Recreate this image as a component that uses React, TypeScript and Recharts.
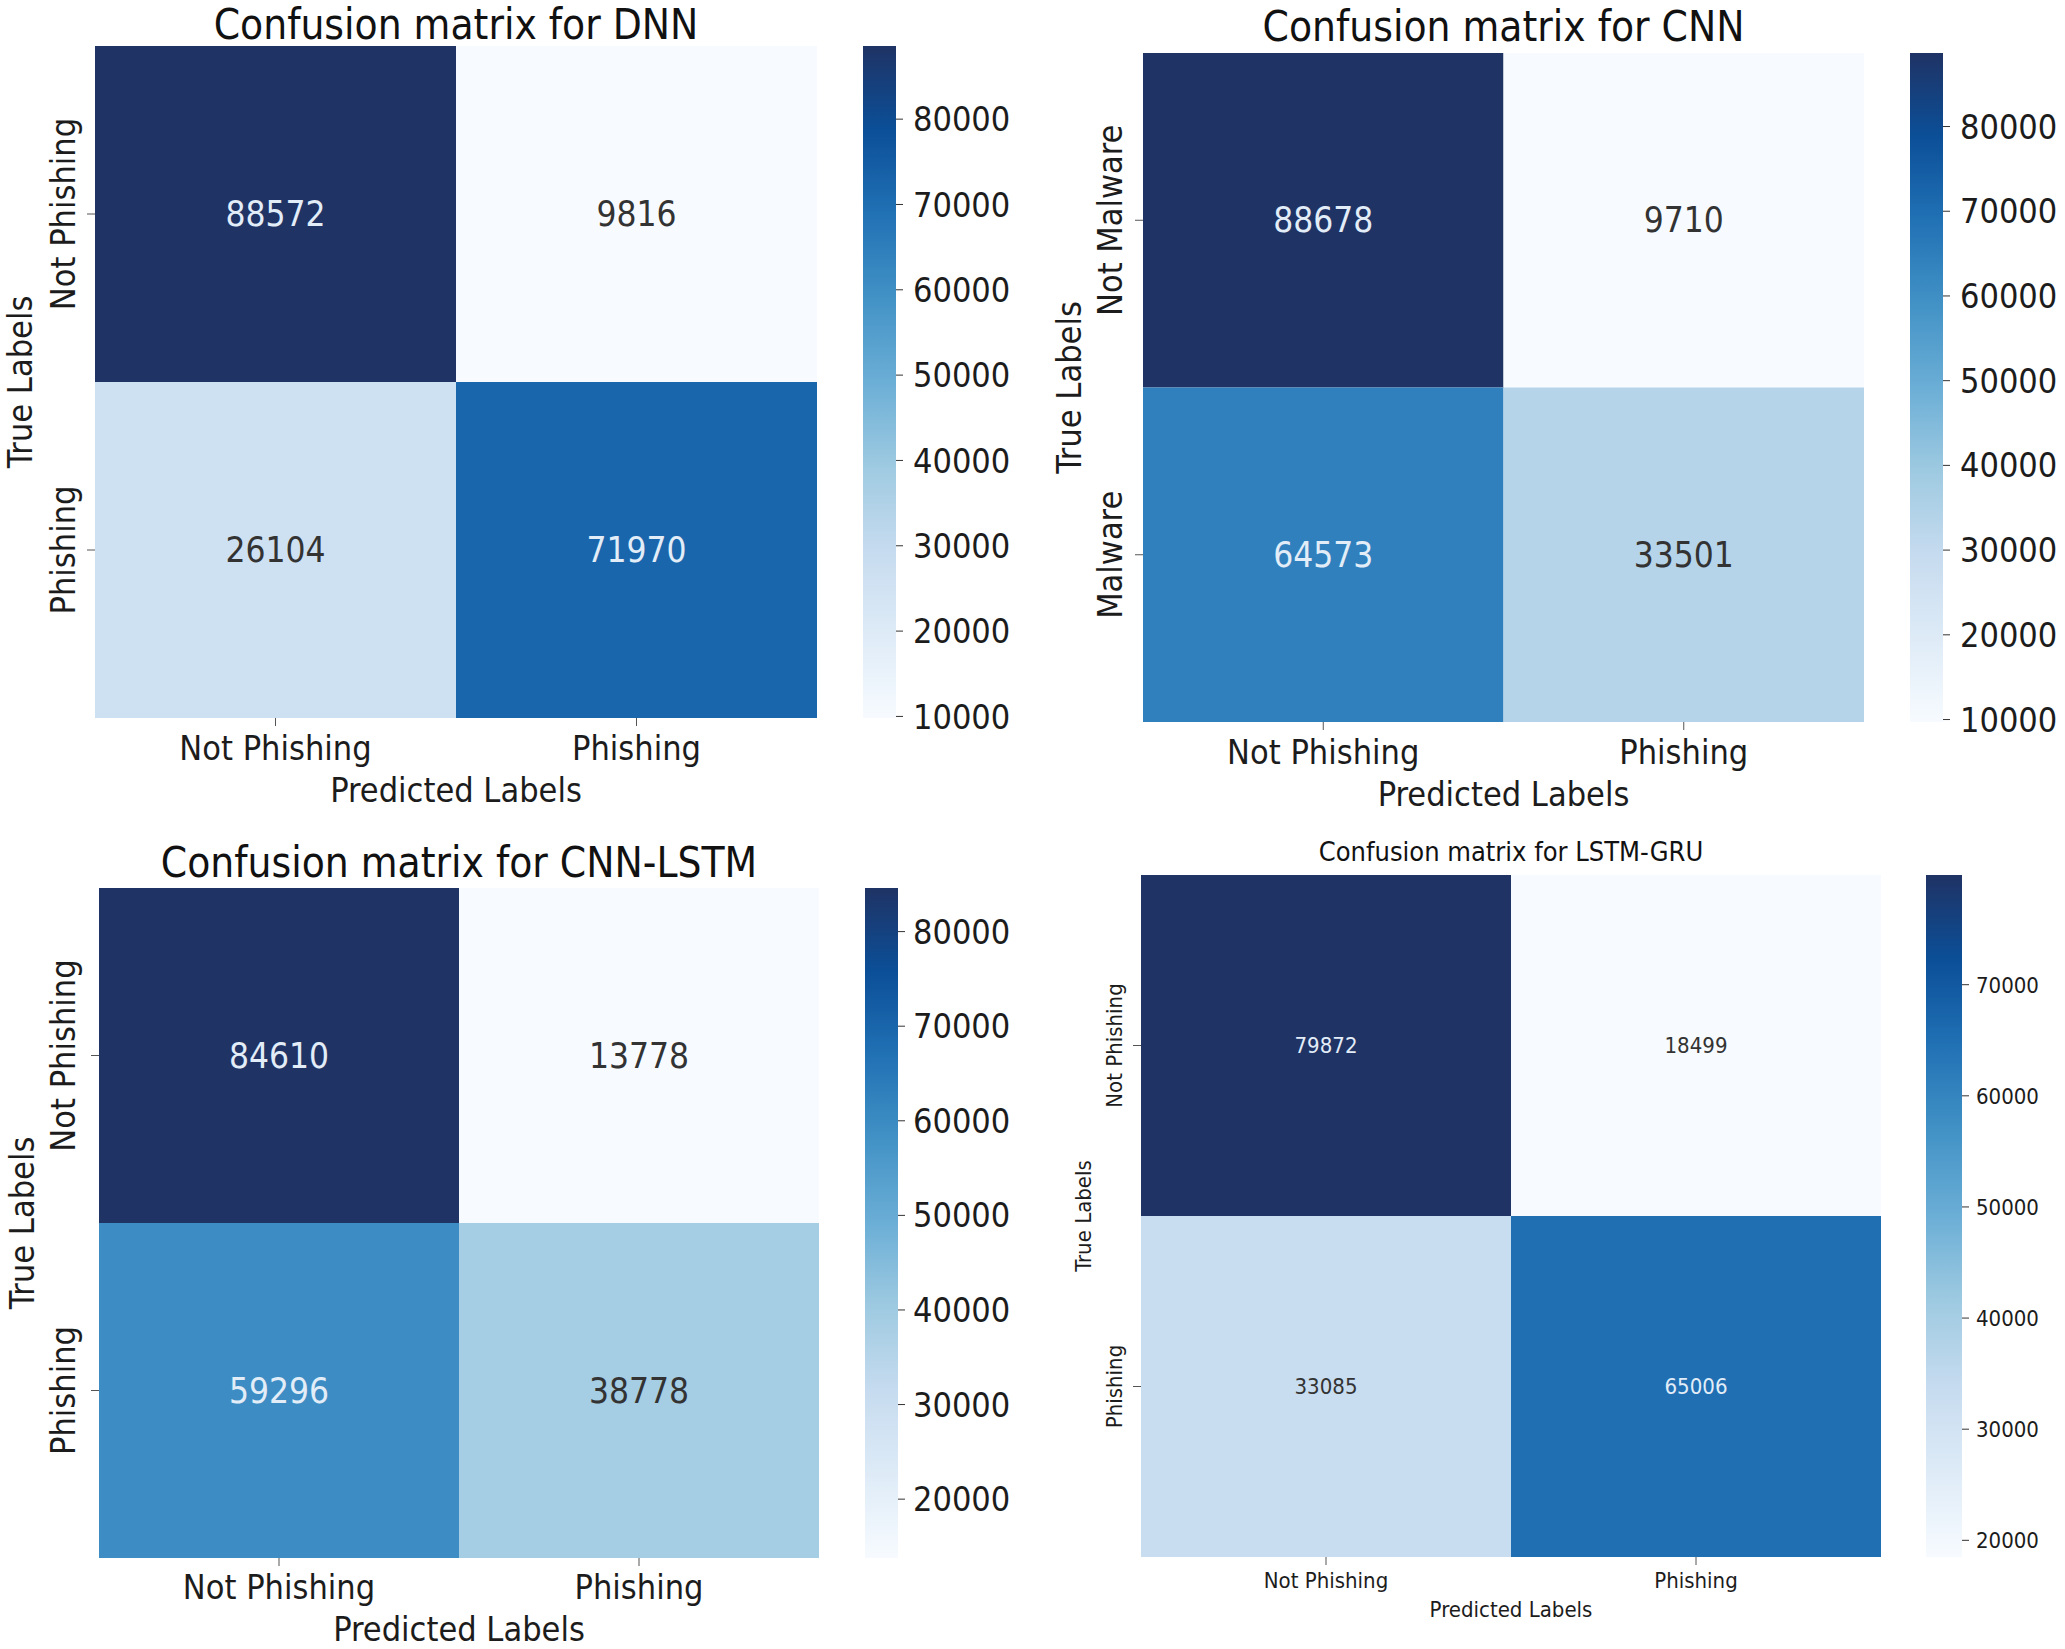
import React from 'react';
import { ComposedChart, XAxis, YAxis, Scatter, ReferenceArea, Label } from 'recharts';

// ---------- data ----------
const predictedLabels = ['Not Phishing', 'Phishing'];
const truePhishingLabels = ['Not Phishing', 'Phishing'];
const trueMalwareLabels = ['Not Malware', 'Malware'];

// row-major: [TN, FP, FN, TP]
const dnnValues = [88572, 9816, 26104, 71970];
const cnnValues = [88678, 9710, 64573, 33501];
const cnnLstmValues = [84610, 13778, 59296, 38778];
const lstmGruValues = [79872, 18499, 33085, 65006];

const dnnTicks = [10000, 20000, 30000, 40000, 50000, 60000, 70000, 80000];
const cnnTicks = [10000, 20000, 30000, 40000, 50000, 60000, 70000, 80000];
const cnnLstmTicks = [20000, 30000, 40000, 50000, 60000, 70000, 80000];
const lstmGruTicks = [20000, 30000, 40000, 50000, 60000, 70000];

// Blues colormap stops (low -> high)
const bluesStops = ['#f7fbff', '#deebf7', '#c6dbef', '#9ecae1', '#6baed6', '#4292c6', '#2171b5', '#0b4f98', '#1f3365'];

const FONT = '"DejaVu Sans Condensed", "DejaVu Sans", sans-serif';

function hexToRgb(h: string) {
  const n = parseInt(h.slice(1), 16);
  return [(n >> 16) & 255, (n >> 8) & 255, n & 255];
}
function blues(t: number) {
  const c = Math.max(0, Math.min(1, t)) * (bluesStops.length - 1);
  const i = Math.min(Math.floor(c), bluesStops.length - 2);
  const f = c - i;
  const a = hexToRgb(bluesStops[i]);
  const b = hexToRgb(bluesStops[i + 1]);
  const m = a.map((v, k) => Math.round(v + (b[k] - v) * f));
  return `rgb(${m[0]},${m[1]},${m[2]})`;
}

interface PanelCfg {
  id: string;
  title: string;
  values: number[];
  rowLabels: string[];
  colLabels: string[];
  ticks: number[];
  hx: number; hy: number; hw: number; hh: number;
  leftSpace: number;
  cbx: number; cbw: number; cbGap: number;
  titleY: number;
  yTickX: number; yLabelX: number; xTickY: number; xLabelY: number;
  fTitle: number; fText: number; fValue: number; fCb: number;
}

const panels: PanelCfg[] = [
  {
    id: 'dnn', title: 'Confusion matrix for DNN', values: dnnValues,
    rowLabels: truePhishingLabels, colLabels: predictedLabels, ticks: dnnTicks,
    hx: 95, hy: 46, hw: 722, hh: 672, leftSpace: 95,
    cbx: 863, cbw: 33, cbGap: 10,
    titleY: 25, yTickX: 63, yLabelX: 20, xTickY: 748, xLabelY: 790,
    fTitle: 42, fText: 34, fValue: 35, fCb: 34,
  },
  {
    id: 'cnn', title: 'Confusion matrix for CNN', values: cnnValues,
    rowLabels: trueMalwareLabels, colLabels: predictedLabels, ticks: cnnTicks,
    hx: 1143, hy: 53, hw: 721, hh: 669, leftSpace: 103,
    cbx: 1910, cbw: 33, cbGap: 10,
    titleY: 27, yTickX: 1110, yLabelX: 1069, xTickY: 752, xLabelY: 794,
    fTitle: 42, fText: 34, fValue: 35, fCb: 34,
  },
  {
    id: 'cnnlstm', title: 'Confusion matrix for CNN-LSTM', values: cnnLstmValues,
    rowLabels: truePhishingLabels, colLabels: predictedLabels, ticks: cnnLstmTicks,
    hx: 99, hy: 888, hw: 720, hh: 670, leftSpace: 99,
    cbx: 865, cbw: 33, cbGap: 8,
    titleY: 863, yTickX: 63, yLabelX: 22, xTickY: 1587, xLabelY: 1629,
    fTitle: 42, fText: 34, fValue: 35, fCb: 34,
  },
  {
    id: 'lstmgru', title: 'Confusion matrix for LSTM-GRU', values: lstmGruValues,
    rowLabels: truePhishingLabels, colLabels: predictedLabels, ticks: lstmGruTicks,
    hx: 1141, hy: 875, hw: 740, hh: 682, leftSpace: 96,
    cbx: 1926, cbw: 36, cbGap: 7,
    titleY: 852, yTickX: 1114, yLabelX: 1083, xTickY: 1580, xLabelY: 1609,
    fTitle: 27, fText: 22, fValue: 22, fCb: 22,
  },
];

const TEXT = '#1c1c1c';

function Panel({ p }: { p: PanelCfg }) {
  const vmin = Math.min(...p.values);
  const vmax = Math.max(...p.values);
  const cells = p.values.map((v, i) => ({
    x: (i % 2) + 0.5,
    y: Math.floor(i / 2) + 0.5,
    col: i % 2,
    row: Math.floor(i / 2),
    v,
    t: (v - vmin) / (vmax - vmin),
  }));
  const bottomSpace = 120;
  const chartLeft = p.hx - p.leftSpace;
  const W = p.leftSpace + p.hw;
  const H = p.hh + bottomSpace;
  const gradId = `grad-${p.id}`;
  const cbData = p.ticks.map((t) => ({ x: 0.5, y: t }));
  const cbPad = 30;
  const halfT = Math.min(p.fTitle * 0.62, p.titleY);

  return (
    <>
      <div
        style={{
          position: 'absolute', left: p.hx - 200, width: p.hw + 400, top: p.titleY - halfT,
          height: halfT * 2, lineHeight: `${halfT * 2}px`, textAlign: 'center',
          fontFamily: FONT, fontSize: p.fTitle, color: '#111', whiteSpace: 'nowrap',
        }}
      >
        {p.title}
      </div>
      <div style={{ position: 'absolute', left: chartLeft, top: p.hy, width: W, height: H }}>
        <ComposedChart width={W} height={H} data={cells} margin={{ top: 0, right: 0, bottom: 0, left: 0 }}>
          <XAxis
            type="number" dataKey="x" domain={[0, 2]} ticks={[0.5, 1.5]} interval={0}
            height={bottomSpace} axisLine={false} tickSize={8} tickLine={{ stroke: '#555' }}
            tick={(tp: any) => (
              <text
                x={tp.x} y={p.xTickY - p.hy} textAnchor="middle" dominantBaseline="central"
                fontFamily={FONT} fontSize={p.fText} fill={TEXT}
              >
                {p.colLabels[Math.floor(tp.payload.value)]}
              </text>
            )}
          >
            <Label
              content={() => (
                <text
                  x={p.leftSpace + p.hw / 2} y={p.xLabelY - p.hy} textAnchor="middle" dominantBaseline="central"
                  fontFamily={FONT} fontSize={p.fText} fill={TEXT}
                >
                  Predicted Labels
                </text>
              )}
            />
          </XAxis>
          <YAxis
            type="number" dataKey="y" domain={[0, 2]} ticks={[0.5, 1.5]} interval={0} reversed
            width={p.leftSpace} axisLine={false} tickSize={8} tickLine={{ stroke: '#555' }}
            tick={(tp: any) => {
              const x = p.yTickX - chartLeft;
              return (
                <text
                  x={x} y={tp.y} textAnchor="middle" dominantBaseline="central"
                  transform={`rotate(-90, ${x}, ${tp.y})`}
                  fontFamily={FONT} fontSize={p.fText} fill={TEXT}
                >
                  {p.rowLabels[Math.floor(tp.payload.value)]}
                </text>
              );
            }}
          >
            <Label
              content={() => {
                const x = p.yLabelX - chartLeft;
                const y = p.hh / 2;
                return (
                  <text
                    x={x} y={y} textAnchor="middle" dominantBaseline="central"
                    transform={`rotate(-90, ${x}, ${y})`}
                    fontFamily={FONT} fontSize={p.fText} fill={TEXT}
                  >
                    True Labels
                  </text>
                );
              }}
            />
          </YAxis>
          {cells.map((c) => (
            <ReferenceArea
              key={`${c.row}-${c.col}`}
              x1={c.col} x2={c.col + 1} y1={c.row} y2={c.row + 1}
              fill={blues(c.t)} fillOpacity={1} stroke="none" ifOverflow="visible"
              label={(lp: any) => {
                const vb = lp.viewBox || {};
                return (
                  <text
                    x={vb.x + vb.width / 2} y={vb.y + vb.height / 2} textAnchor="middle" dominantBaseline="central"
                    fontFamily={FONT} fontSize={p.fValue} fill={c.t > 0.5 ? '#e2edf8' : '#333333'}
                  >
                    {c.v}
                  </text>
                );
              }}
            />
          ))}
          <Scatter dataKey="y" isAnimationActive={false} shape={() => <g />} />
        </ComposedChart>
      </div>
      <div style={{ position: 'absolute', left: p.cbx, top: p.hy - cbPad, width: p.cbw + 160, height: p.hh + cbPad * 2 }}>
        <ComposedChart
          width={p.cbw + 160} height={p.hh + cbPad * 2} data={cbData}
          margin={{ top: cbPad, right: 0, bottom: cbPad, left: 0 }}
        >
          <defs>
            <linearGradient id={gradId} x1="0" y1="1" x2="0" y2="0">
              {bluesStops.map((col, k) => (
                <stop key={k} offset={`${(k / (bluesStops.length - 1)) * 100}%`} stopColor={col} />
              ))}
            </linearGradient>
          </defs>
          <XAxis type="number" dataKey="x" domain={[0, 1]} hide />
          <YAxis
            type="number" dataKey="y" orientation="right" domain={[vmin, vmax]} ticks={p.ticks} interval={0}
            width={160} axisLine={false} tickSize={7} tickMargin={p.cbGap} tickLine={{ stroke: '#333' }}
            allowDataOverflow
            tick={{ fontFamily: FONT, fontSize: p.fCb, fill: TEXT }}
          />
          <ReferenceArea x1={0} x2={1} y1={vmin} y2={vmax} fill={`url(#${gradId})`} fillOpacity={1} stroke="none" />
          <Scatter dataKey="y" isAnimationActive={false} shape={() => <g />} />
        </ComposedChart>
      </div>
    </>
  );
}

export default function App() {
  return (
    <div style={{ position: 'absolute', left: 0, top: 0, width: 2065, height: 1649, background: '#ffffff', overflow: 'hidden' }}>
      {panels.map((p) => (
        <Panel key={p.id} p={p} />
      ))}
    </div>
  );
}
